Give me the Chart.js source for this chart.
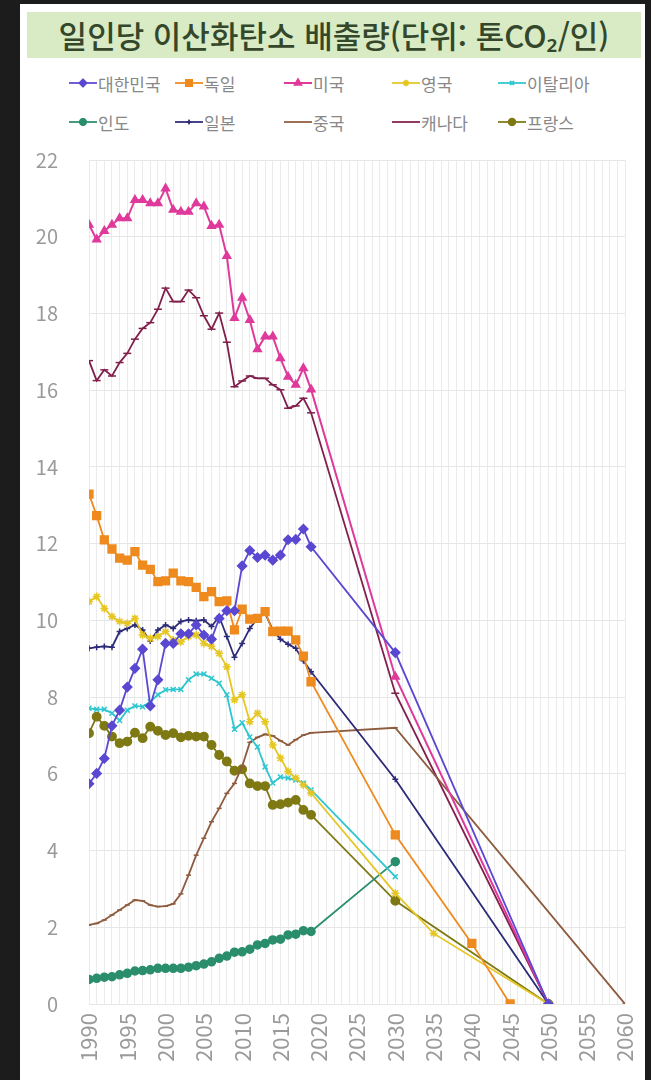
<!DOCTYPE html>
<html lang="ko">
<head>
<meta charset="utf-8">
<script src="https://cdn.jsdelivr.net/npm/chart.js@4.4.1/dist/chart.umd.min.js"></script>
<style>
  html, body { margin: 0; padding: 0; background: #1c1c1c; }
  body { width: 651px; height: 1080px; overflow: hidden; position: relative;
         font-family: "Noto Sans CJK KR", "Noto Sans", sans-serif; }
  .card { position: absolute; left: 20px; top: 4px; width: 625px; height: 1076px; background: #fff; }
  .title { position: absolute; left: 7px; top: 8px; width: 614px; height: 46px; background: #d8ebc4;
           color: #34472b; font-size: 31px; font-weight: 500; line-height: 46px; text-align: center; }
  .item { position: absolute; height: 20px; display: flex; align-items: center;
          color: #888888; font-size: 17px; white-space: nowrap; }
  .item canvas { width: 28px; height: 14px; margin-right: 1px; }
  #box { position: absolute; left: 0; top: 136px; width: 625px; height: 940px; }
</style>
</head>
<body>
<div class="card">
  <div class="title">일인당 이산화탄소 배출량(단위: 톤CO₂/인)</div>
  <div id="legend"></div>
  <div id="box"><canvas id="co2Chart"></canvas></div>
</div>
<script>
// 연도 (실적)
const years = [1990, 1991, 1992, 1993, 1994, 1995, 1996, 1997, 1998, 1999,
               2000, 2001, 2002, 2003, 2004, 2005, 2006, 2007, 2008, 2009,
               2010, 2011, 2012, 2013, 2014, 2015, 2016, 2017, 2018, 2019];

// 국가별 실적 (톤CO2/인)
const korea   = [5.74, 6.01, 6.40, 7.25, 7.66, 8.26, 8.75, 9.25, 7.77, 8.45, 9.40, 9.40, 9.65, 9.65, 9.88, 9.62, 9.51, 10.05, 10.25, 10.25, 11.42, 11.82, 11.64, 11.70, 11.57, 11.70, 12.10, 12.11, 12.38, 11.92];
const germany = [13.29, 12.73, 12.10, 11.86, 11.62, 11.57, 11.79, 11.44, 11.33, 11.01, 11.03, 11.23, 11.03, 11.01, 10.86, 10.62, 10.75, 10.49, 10.51, 9.75, 10.29, 10.03, 10.05, 10.23, 9.71, 9.72, 9.72, 9.49, 9.07, 8.40];
const usa     = [20.31, 19.93, 20.15, 20.31, 20.48, 20.48, 20.96, 20.96, 20.87, 20.87, 21.26, 20.70, 20.65, 20.65, 20.87, 20.79, 20.28, 20.31, 19.50, 17.88, 18.41, 17.83, 17.07, 17.40, 17.40, 16.83, 16.35, 16.14, 16.57, 16.02];
const uk      = [10.49, 10.62, 10.31, 10.10, 9.97, 9.92, 10.05, 9.62, 9.53, 9.58, 9.71, 9.49, 9.44, 9.58, 9.62, 9.40, 9.32, 9.14, 8.79, 7.93, 8.06, 7.36, 7.58, 7.36, 6.75, 6.41, 6.06, 5.89, 5.71, 5.50];
const italy   = [7.71, 7.68, 7.68, 7.58, 7.39, 7.66, 7.77, 7.75, 7.88, 8.06, 8.19, 8.20, 8.20, 8.45, 8.60, 8.60, 8.49, 8.36, 8.06, 7.16, 7.33, 6.96, 6.70, 6.18, 5.76, 5.92, 5.89, 5.84, 5.76, 5.58];
const india   = [0.64, 0.67, 0.70, 0.71, 0.76, 0.80, 0.86, 0.87, 0.89, 0.93, 0.93, 0.93, 0.93, 0.96, 1.00, 1.04, 1.10, 1.19, 1.25, 1.35, 1.36, 1.43, 1.54, 1.58, 1.67, 1.69, 1.80, 1.82, 1.91, 1.89];
const japan   = [9.27, 9.30, 9.32, 9.30, 9.71, 9.79, 9.88, 9.75, 9.46, 9.75, 9.88, 9.79, 9.97, 10.01, 9.99, 10.01, 9.84, 10.10, 9.58, 9.04, 9.40, 9.79, 10.05, 10.19, 9.75, 9.51, 9.38, 9.27, 8.95, 8.66];
const china   = [2.06, 2.10, 2.19, 2.32, 2.45, 2.58, 2.71, 2.69, 2.58, 2.54, 2.55, 2.61, 2.87, 3.36, 3.88, 4.32, 4.75, 5.10, 5.49, 5.75, 6.19, 6.82, 6.95, 7.03, 6.99, 6.86, 6.75, 6.89, 7.01, 7.07];
const canada  = [16.77, 16.25, 16.53, 16.37, 16.72, 16.96, 17.33, 17.61, 17.76, 18.11, 18.66, 18.31, 18.31, 18.61, 18.41, 17.94, 17.59, 18.01, 17.25, 16.09, 16.24, 16.37, 16.31, 16.31, 16.14, 16.01, 15.53, 15.59, 15.79, 15.41];
const france  = [7.06, 7.49, 7.25, 6.97, 6.80, 6.84, 7.07, 6.93, 7.23, 7.12, 7.01, 7.06, 6.95, 6.99, 6.97, 6.97, 6.75, 6.49, 6.32, 6.08, 6.12, 5.75, 5.68, 5.68, 5.19, 5.21, 5.25, 5.32, 5.06, 4.93];

// 목표 연도와 목표치
const koreaTargetYears = [2030, 2050],         koreaTarget = [9.16, 0];
const germanyTargetYears = [2030, 2040, 2045], germanyTarget = [4.41, 1.58, 0];
const usaTargetYears = [2030, 2050],           usaTarget = [8.53, 0];
const ukTargetYears = [2030, 2035, 2050],      ukTarget = [2.89, 1.84, 0];
const italyTargetYears = [2030],               italyTarget = [3.32];
const indiaTargetYears = [2030],               indiaTarget = [3.71];
const japanTargetYears = [2030, 2050],         japanTarget = [5.86, 0];
const chinaTargetYears = [2030, 2060],         chinaTarget = [7.20, 0];
const canadaTargetYears = [2030, 2050],        canadaTarget = [8.10, 0];
const franceTargetYears = [2030, 2050],        franceTarget = [2.69, 0];

// 축 눈금
const yTicks = [0, 2, 4, 6, 8, 10, 12, 14, 16, 18, 20, 22];
const xLabelYears = [1990, 1995, 2000, 2005, 2010, 2015, 2020, 2025, 2030, 2035, 2040, 2045, 2050, 2055, 2060];

function pts(xs, ys) {
    return xs.map(function(x, i) { return { x: x, y: ys[i] }; });
}

const series = [
    { label: '대한민국', values: korea,   tYears: koreaTargetYears,   tVals: koreaTarget,   color: '#5a48d2', style: 'rectRot',  r: 4.5, w: 1.8 },
    { label: '독일',     values: germany, tYears: germanyTargetYears, tVals: germanyTarget, color: '#ee8a1e', style: 'rect',     r: 5.5, w: 1.8 },
    { label: '미국',     values: usa,     tYears: usaTargetYears,     tVals: usaTarget,     color: '#df3a9b', style: 'triangle', r: 4.5, w: 2 },
    { label: '영국',     values: uk,      tYears: ukTargetYears,      tVals: ukTarget,      color: '#e5c622', style: 'star',     r: 4,   w: 1.8 },
    { label: '이탈리아', values: italy,   tYears: italyTargetYears,   tVals: italyTarget,   color: '#2ec6cf', style: 'crossRot', r: 3.5, w: 1.8 },
    { label: '인도',     values: india,   tYears: indiaTargetYears,   tVals: indiaTarget,   color: '#2a8e6c', style: 'circle',   r: 4,   w: 1.8 },
    { label: '일본',     values: japan,   tYears: japanTargetYears,   tVals: japanTarget,   color: '#2d2a78', style: 'cross',    r: 3,   w: 1.8 },
    { label: '중국',     values: china,   tYears: chinaTargetYears,   tVals: chinaTarget,   color: '#8d5c3e', style: 'line',     r: 2.5, w: 1.8 },
    { label: '캐나다',   values: canada,  tYears: canadaTargetYears,  tVals: canadaTarget,  color: '#801f4c', style: 'line',     r: 4,   w: 1.8 },
    { label: '프랑스',   values: france,  tYears: franceTargetYears,  tVals: franceTarget,  color: '#7e7912', style: 'circle',   r: 4.2, w: 1.8 }
];

// 범례 (2줄 x 5칸)
const legendCols = [49, 155, 264, 372, 478];
const legendRows = [69, 108];
const legendBox = document.getElementById('legend');
series.forEach(function(s, i) {
    const item = document.createElement('div');
    item.className = 'item';
    item.style.left = legendCols[i % 5] + 'px';
    item.style.top = legendRows[Math.floor(i / 5)] + 'px';
    const c = document.createElement('canvas');
    c.width = 56; c.height = 28;
    const g = c.getContext('2d');
    g.scale(2, 2);
    g.strokeStyle = s.color; g.lineWidth = s.w;
    g.beginPath(); g.moveTo(0, 7); g.lineTo(28, 7); g.stroke();
    if (s.label !== '중국' && s.label !== '캐나다' && Chart.helpers && Chart.helpers.drawPoint) {
        g.fillStyle = s.color;
        Chart.helpers.drawPoint(g, { pointStyle: s.style, radius: s.r * 0.8, rotation: 0, borderWidth: 1.5 }, 14, 7);
    }
    item.appendChild(c);
    const t = document.createElement('span');
    t.textContent = s.label;
    item.appendChild(t);
    legendBox.appendChild(item);
});

const ctx = document.getElementById('co2Chart').getContext('2d');
new Chart(ctx, {
    type: 'line',
    data: {
        datasets: series.map(function(s) {
            return {
                label: s.label,
                data: pts(years.concat(s.tYears), s.values.concat(s.tVals)),
                borderColor: s.color,
                backgroundColor: s.color,
                borderWidth: s.w,
                pointStyle: s.style,
                pointRadius: s.r,
                pointBorderWidth: 1.5,
                pointBorderColor: s.color,
                pointBackgroundColor: s.color,
                tension: 0,
                fill: false
            };
        })
    },
    options: {
        responsive: true,
        maintainAspectRatio: false,
        animation: false,
        layout: { padding: { left: 0, right: 20, top: 20, bottom: 0 } },
        plugins: { legend: { display: false }, tooltip: { enabled: false } },
        scales: {
            x: {
                type: 'linear',
                min: 1990,
                max: 2060,
                afterFit: function(scale) {
                    scale.height = 76;
                    scale.paddingLeft = 0;
                    scale.paddingRight = 0;
                },
                afterBuildTicks: function(scale) {
                    const t = [];
                    for (let v = 1990; v <= 2060; v++) t.push({ value: v });
                    scale.ticks = t;
                },
                grid: { color: '#ebebeb', lineWidth: 1, drawTicks: false },
                border: { display: false },
                ticks: {
                    autoSkip: false,
                    minRotation: 90,
                    maxRotation: 90,
                    padding: 9,
                    color: '#9a9a9a',
                    font: { family: '"Noto Sans CJK KR", sans-serif', size: 22 },
                    callback: function(v) { return xLabelYears.indexOf(v) >= 0 ? String(v) : ''; }
                }
            },
            y: {
                min: 0,
                max: 22,
                afterFit: function(scale) {
                    scale.width = 69;
                    scale.paddingTop = 0;
                    scale.paddingBottom = 0;
                },
                afterBuildTicks: function(scale) {
                    scale.ticks = yTicks.map(function(v) { return { value: v }; });
                },
                grid: { color: '#e6e6e6', lineWidth: 1, drawTicks: false },
                border: { display: false },
                ticks: {
                    padding: 31,
                    color: '#9a9a9a',
                    font: { family: '"Noto Sans CJK KR", sans-serif', size: 20 }
                }
            }
        }
    }
});
</script>
</body>
</html>
